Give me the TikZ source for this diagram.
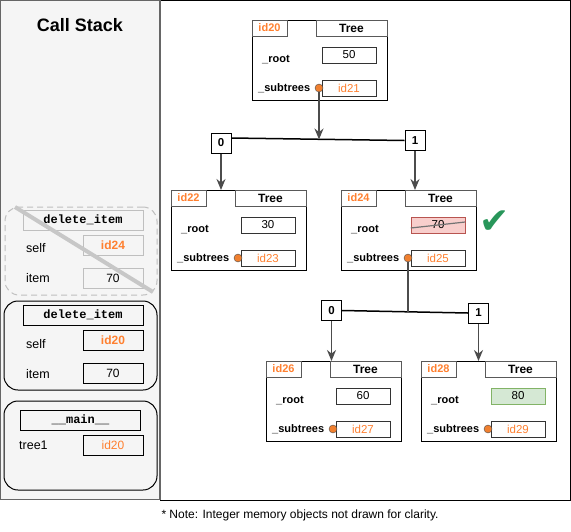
\documentclass[tikz,border=0pt]{standalone}
\usepackage{fontspec}
\setmainfont{Liberation Sans}
\setmonofont{Liberation Mono}
\newfontfamily\symfont{DejaVu Sans}
\usetikzlibrary{arrows.meta}

\definecolor{idorange}{RGB}{255,128,48}
\definecolor{dotorange}{RGB}{240,128,48}
\definecolor{panelgray}{RGB}{245,245,245}
\definecolor{delred}{RGB}{248,206,204}
\definecolor{delredline}{RGB}{184,84,80}
\definecolor{newgreen}{RGB}{213,232,212}
\definecolor{newgreenline}{RGB}{130,179,102}
\definecolor{okgreen}{RGB}{40,150,90}

\tikzset{
  objbox/.style={draw=black, line width=1pt, minimum width=135pt, minimum height=80pt, inner sep=0pt, outer sep=0pt},
  idtab/.style={draw=black!65, minimum width=35pt, minimum height=16pt, inner sep=0pt, font=\fontsize{11}{11}\selectfont\bfseries, text=idorange},
  typetab/.style={draw=black!65, minimum width=71pt, minimum height=16pt, inner sep=0pt, font=\fontsize{12}{12}\selectfont\bfseries},
  field/.style={inner sep=0pt, anchor=west, font=\fontsize{11}{11}\selectfont\bfseries},
  valbox/.style={draw=black!80, minimum width=54pt, minimum height=16pt, inner sep=0pt, font=\fontsize{11.5}{11.5}\selectfont},
  idref/.style={text=idorange},
  removed/.style={fill=delred, draw=delredline},
  added/.style={fill=newgreen, draw=newgreenline},
  dot/.style={circle, draw=black!70, fill=dotorange, minimum size=8pt, inner sep=0pt},
  idxbox/.style={draw=black, line width=1pt, minimum size=20pt, inner sep=0pt, font=\fontsize{11.5}{11.5}\selectfont\bfseries},
  ptr/.style={draw=black!70, line width=1.6pt},
  tip/.style={-{Stealth[length=11pt,width=9pt]}},
  branch/.style={draw=black, line width=1.5pt},
  frame/.style={draw=black, line width=1pt, rounded corners=14pt, minimum width=153pt, minimum height=89pt, inner sep=0pt},
  goneframe/.style={draw=black!25, line width=1pt, dash pattern=on 6pt off 4pt, rounded corners=14pt, minimum width=152pt, minimum height=88pt, inner sep=0pt},
  fname/.style={draw=black, minimum width=120pt, minimum height=20pt, inner sep=0pt, font=\fontsize{12}{12}\selectfont\ttfamily\bfseries},
  var/.style={inner sep=0pt, anchor=west, font=\fontsize{12.5}{12.5}\selectfont},
  varbox/.style={draw=black, minimum width=60pt, minimum height=20pt, inner sep=0pt, font=\fontsize{12}{12}\selectfont},
}

% one Tree object: name, left, top, id, root value, subtrees id, root style
\newcommand{\treeobj}[7]{%
  \node[objbox] (#1) at (#2+67.5,#3+40) {};
  \node[idtab] (#1-id) at (#2+17.5,#3+8) {#4};
  \node[typetab] (#1-type) at (#2+99.5,#3+8) {Tree};
  \node[field] (#1-rl) at (#2+10,#3+40) {\_root};
  \node[valbox,#7] (#1-root) at (#2+97,#3+35) {#5};
  \node[field] (#1-sl) at (#2+6,#3+68) {\_subtrees};
  \node[valbox,idref] (#1-sub) at (#2+97,#3+68) {#6};
  \node[dot] (#1-dot) at (#2+67,#3+68) {};
}

\begin{document}
\begin{tikzpicture}[x=1pt, y=-1pt]
\useasboundingbox (0,0) rectangle (571,531);

% panels
\draw[line width=1pt] (160,0.5) rectangle (570,500.5);
\draw[fill=panelgray, draw=black!60, line width=1.5pt] (0.5,0.5) rectangle (160,499.5);
\node[font=\fontsize{18}{18}\selectfont\bfseries] (title) at (80,25) {Call Stack};

% call stack frames
\node[goneframe] (f1) at (81,251) {};
\node[fname, draw=black!25] (f1-name) at (83,220) {delete\_item};
\node[var] (f1-self) at (26,248) {self};
\node[varbox, draw=black!25, text=idorange, font=\fontsize{12}{12}\selectfont\bfseries] (f1-selfv) at (113,245.5) {id24};
\node[var] (f1-item) at (26,278) {item};
\node[varbox, draw=black!25] (f1-itemv) at (113,278) {70};
\draw[black!22, line width=4pt] (15,207) -- (153,292);

\node[frame] (f2) at (80.5,345.5) {};
\node[fname] (f2-name) at (83,315) {delete\_item};
\node[var] (f2-self) at (26,344) {self};
\node[varbox, text=idorange, font=\fontsize{12}{12}\selectfont\bfseries] (f2-selfv) at (113,340) {id20};
\node[var] (f2-item) at (26,374) {item};
\node[varbox] (f2-itemv) at (113,373) {70};

\node[frame] (f3) at (80.5,445.5) {};
\node[fname] (f3-name) at (80.5,420) {\_\_main\_\_};
\node[var] (f3-tree) at (19,445) {tree1};
\node[varbox, text=idorange] (f3-treev) at (113,445) {id20};

% trees
\treeobj{t20}{252}{20}{id20}{50}{id21}{}
\treeobj{t22}{171}{190}{id22}{30}{id23}{}
\treeobj{t24}{341}{190}{id24}{70}{id25}{removed}
\treeobj{t26}{266}{361}{id26}{60}{id27}{}
\treeobj{t28}{421}{361}{id28}{80}{id29}{added}
\draw[black!55, line width=1.2pt] ([yshift=-3pt]t24-root.west) -- ([yshift=3pt]t24-root.east);
\node[text=okgreen, font=\fontsize{36}{36}\selectfont\symfont] (ok) at (495,222) {✔};

% subtrees of id20
\node[idxbox] (b0a) at (221,143) {0};
\node[idxbox] (b1a) at (415,140.5) {1};
\draw[branch] ([yshift=5pt]b0a.east) -- (b1a.west);
\coordinate (j1) at (319,139.5);
\draw[ptr, tip] (t20-dot.south) -- (j1);
\draw[ptr, tip] (b0a.south) -- (b0a.south |- t22.north);
\draw[ptr, tip] (b1a.south) -- (b1a.south |- t24.north);

% subtrees of id24
\node[idxbox] (b0b) at (331.5,310.5) {0};
\node[idxbox] (b1b) at (478.5,313) {1};
\draw[branch] (b0b.east) -- (b1b.west);
\coordinate (j2) at (408,312);
\draw[ptr] (t24-dot.south) -- (j2);
\draw[ptr, tip] (b0b.south) -- (b0b.south |- t26.north);
\draw[ptr, tip] (b1b.south) -- (b1b.south |- t28.north);

\node[font=\fontsize{12}{12}\selectfont] (note) at (300,515) {* Note: Integer memory objects not drawn for clarity.};
\end{tikzpicture}
\end{document}
